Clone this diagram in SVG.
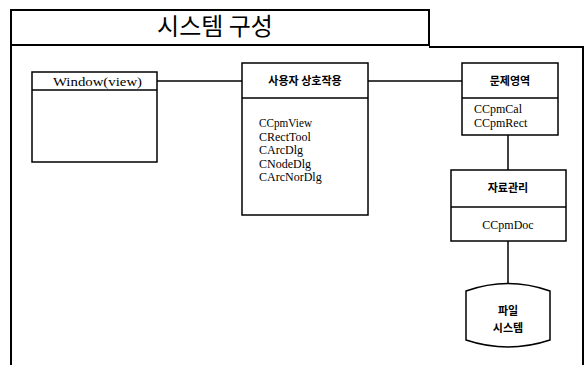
<svg xmlns="http://www.w3.org/2000/svg" width="585" height="365" viewBox="0 0 585 365">
<style>
.frame{fill:none;stroke:#000;stroke-width:2}
.box{fill:#fff;stroke:#000;stroke-width:1.5}
.ln{stroke:#000;stroke-width:1.5;fill:none}
.kr{font-family:"Noto Sans CJK KR","Liberation Serif",serif;font-weight:bold;font-size:11px;fill:#000}
.en{font-family:"Liberation Serif","Noto Sans CJK KR",serif;font-size:12px;fill:#000}
.title{font-family:"Noto Sans CJK KR",sans-serif;font-size:24px;fill:#000}
</style>
<rect width="585" height="365" fill="#fff"/>
<g id="frame">
<rect class="frame" x="11" y="10" width="418" height="35"/>
<polyline class="frame" points="11,45 11,366"/>
<polyline class="frame" points="429,47 583,47 583,366"/>
<text class="title" x="215" y="35" text-anchor="middle">시스템 구성</text>
</g>
<g id="connectors">
<line class="ln" x1="157" y1="81" x2="242" y2="81"/>
<line class="ln" x1="368" y1="81" x2="462" y2="81"/>
<line class="ln" x1="508" y1="135" x2="508" y2="170"/>
<line class="ln" x1="508" y1="241" x2="508" y2="284"/>
</g>
<g id="window">
<rect class="box" x="32" y="72" width="125" height="90"/>
<line class="ln" x1="32" y1="90" x2="157" y2="90"/>
<text class="en" x="53" y="86" textLength="89" lengthAdjust="spacingAndGlyphs">Window(view)</text>
</g>
<g id="interaction">
<rect class="box" x="242" y="63" width="126" height="152"/>
<line class="ln" x1="242" y1="98" x2="368" y2="98"/>
<text class="kr" x="305" y="85" text-anchor="middle">사용자 상호작용</text>
<text class="en" x="259" y="127" textLength="53" lengthAdjust="spacingAndGlyphs">CCpmView</text>
<text class="en" x="259" y="140.5">CRectTool</text>
<text class="en" x="259" y="154">CArcDlg</text>
<text class="en" x="259" y="167.5">CNodeDlg</text>
<text class="en" x="259" y="181">CArcNorDlg</text>
</g>
<g id="problem">
<rect class="box" x="462" y="63" width="96" height="72"/>
<line class="ln" x1="462" y1="98" x2="558" y2="98"/>
<text class="kr" x="510" y="85" text-anchor="middle">문제영역</text>
<text class="en" x="474" y="113">CCpmCal</text>
<text class="en" x="474" y="127">CCpmRect</text>
</g>
<g id="data">
<rect class="box" x="451" y="170" width="115" height="71"/>
<line class="ln" x1="451" y1="207" x2="566" y2="207"/>
<text class="kr" x="508" y="192" text-anchor="middle">자료관리</text>
<text class="en" x="508" y="229" text-anchor="middle">CCpmDoc</text>
</g>
<g id="filesystem">
<path class="box" d="M466,291 Q508,276 550,291 L550,340 Q508,354 466,340 Z"/>
<text class="kr" x="508" y="315" text-anchor="middle">파일</text>
<text class="kr" x="508" y="332" text-anchor="middle">시스템</text>
</g>
</svg>
